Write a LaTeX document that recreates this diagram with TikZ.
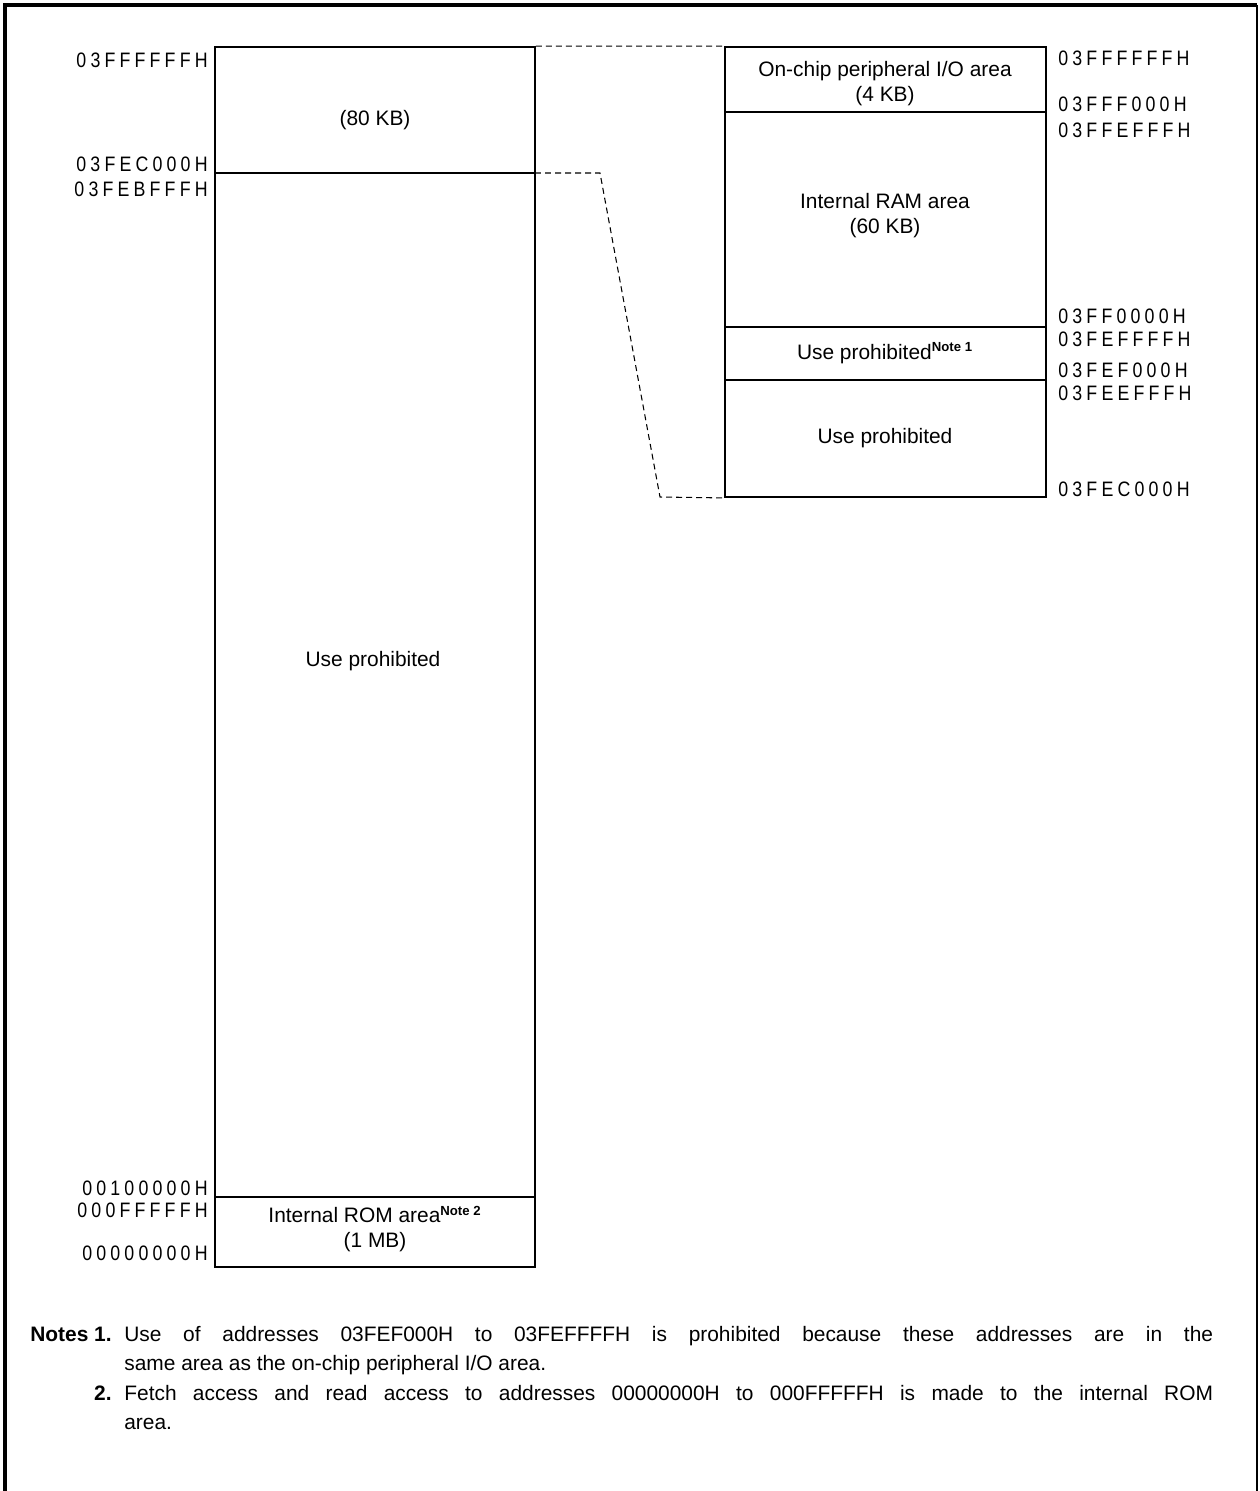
\documentclass[tikz,border=0pt]{standalone}
\usepackage{fontspec}
\setmainfont{Liberation Sans}
\newfontfamily\addrfont[FakeStretch=0.85,LetterSpace=20]{Liberation Sans}
\newcommand{\notemark}[1]{\textsuperscript{\fontsize{7.5pt}{8pt}\selectfont\bfseries #1}}

\begin{document}
\begin{tikzpicture}[
    x=0.02cm, y=-0.02cm,
    mapbox/.style={rectangle, draw=black, line width=1.1pt, inner sep=0pt},
    divline/.style={line width=0.6pt},
    mapline/.style={dash pattern=on 3.4pt off 2.3pt, line width=0.6pt},
    area/.style={align=center, inner sep=0pt, font=\fontsize{11.9pt}{14.2pt}\selectfont},
    addrl/.style={anchor=east, inner sep=0pt, font=\fontsize{11.9pt}{14.2pt}\addrfont},
    addrr/.style={anchor=west, inner sep=0pt, font=\fontsize{11.9pt}{14.2pt}\addrfont},
    notehead/.style={anchor=base east, inner sep=0pt, font=\fontsize{11.9pt}{16.6pt}\selectfont\bfseries},
    notebody/.style={anchor=base west, inner sep=0pt, text width=21.78cm, align=justify, font=\fontsize{11.9pt}{16.6pt}\selectfont}
]
\useasboundingbox (0,0) rectangle (1259,1491);

% Frame (open at the bottom)
\draw[line width=2.2pt] (5,1491) -- (5,5) -- (1257,5);
\draw[line width=1pt] (1257,5) -- (1257,1491);

% Whole address space (left column)
\node[mapbox, minimum width=6.4cm, minimum height=24.4cm] (fullmap) at (375,657) {};
\coordinate (split) at (535,173);
\coordinate (romtop) at (535,1197);
\draw[divline] (fullmap.west |- split) -- (split);
\draw[divline] (fullmap.west |- romtop) -- (romtop);

\node[area] (kb80) at (375,120) {(80 KB)};
\node[area] (useprohib) at (373,661) {Use prohibited};
\node[area] (rom) at (375,1229) {Internal ROM area\notemark{Note 2}\\(1 MB)};

\node[addrl] (a1) at (208,60) {03FFFFFFH};
\node[addrl] (a2) at (208,164) {03FEC000H};
\node[addrl] (a3) at (208,189) {03FEBFFFH};
\node[addrl] (a4) at (208,1188) {00100000H};
\node[addrl] (a5) at (208,1210) {000FFFFFH};
\node[addrl] (a6) at (208,1253) {00000000H};

% Enlarged 80 KB block (right column)
\node[mapbox, minimum width=6.42cm, minimum height=9cm] (zoommap) at (885.5,272) {};
\coordinate (iotop) at (1046,112);
\coordinate (ramlow) at (1046,327);
\coordinate (n1low) at (1046,380);
\draw[divline] (zoommap.west |- iotop) -- (iotop);
\draw[divline] (zoommap.west |- ramlow) -- (ramlow);
\draw[divline] (zoommap.west |- n1low) -- (n1low);

\node[area] (io) at (885,84) {On-chip peripheral I/O area\\(4 KB)};
\node[area] (ram) at (885,216) {Internal RAM area\\(60 KB)};
\node[area] (note1area) at (885,353) {Use prohibited\notemark{Note 1}};
\node[area] (useprohib2) at (885,438) {Use prohibited};

\node[addrr] (b1) at (1058,58) {03FFFFFFH};
\node[addrr] (b2) at (1058,104) {03FFF000H};
\node[addrr] (b3) at (1058,130) {03FFEFFFH};
\node[addrr] (b4) at (1058,316) {03FF0000H};
\node[addrr] (b5) at (1058,339) {03FEFFFFH};
\node[addrr] (b6) at (1058,370) {03FEF000H};
\node[addrr] (b7) at (1058,393) {03FEEFFFH};
\node[addrr] (b8) at (1058,489) {03FEC000H};

% Dashed lines between the two maps
\coordinate (bend) at (600,173);
\coordinate (kink) at (660,497);
\draw[mapline] (fullmap.north east) -- (zoommap.north west);
\draw[mapline] (split) -- (bend) -- (kink) -- (zoommap.south west);

% Notes
\node[notehead] (n1head) at (112,1341) {Notes 1.};
\node[notebody] (n1text) at (124,1341) {Use of addresses 03FEF000H to 03FEFFFFH is prohibited because these addresses are in the\linebreak same area as the on-chip peripheral I/O area.};
\node[notehead] (n2head) at (112,1400) {2.};
\node[notebody] (n2text) at (124,1400) {Fetch access and read access to addresses 00000000H to 000FFFFFH is made to the internal ROM\linebreak area.};

\end{tikzpicture}
\end{document}
